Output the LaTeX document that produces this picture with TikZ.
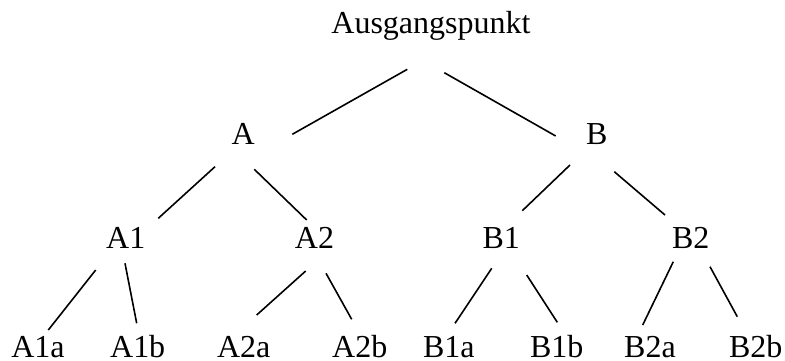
\documentclass[tikz,border=0pt]{standalone}
\usepackage{fontspec}
\setmainfont{Liberation Serif}
\usetikzlibrary{calc}
\begin{document}
\begin{tikzpicture}[x=1pt,y=-1pt,
  lbl/.style={anchor=base,inner sep=0pt,font=\fontsize{32}{36}\selectfont},
  edge/.style={line width=1.6pt,line cap=butt}]
\useasboundingbox (0,0) rectangle (785,360);
\node[lbl] (R) at (431,33.3) {Ausgangspunkt};
\node[lbl] (A) at (243.3,144) {A};
\node[lbl] (B) at (596.7,144) {B};
\node[lbl] (A1) at (125.7,248.3) {A1};
\node[lbl] (A2) at (314.5,248.3) {A2};
\node[lbl] (B1) at (501.2,248.3) {B1};
\node[lbl] (B2) at (690.8,248.3) {B2};
\node[lbl] (A1a) at (38,357.5) {A1a};
\node[lbl] (A1b) at (137.7,357.5) {A1b};
\node[lbl] (A2a) at (243.8,357.5) {A2a};
\node[lbl] (A2b) at (359.7,357.5) {A2b};
\node[lbl] (B1a) at (448.8,357.5) {B1a};
\node[lbl] (B1b) at (556.7,357.5) {B1b};
\node[lbl] (B2a) at (650,357.5) {B2a};
\node[lbl] (B2b) at (755.8,357.5) {B2b};
\draw[edge] ($(R.base)+(-23.7,36)$) -- ($(A.base)+(49,-9.7)$);
\draw[edge] ($(R.base)+(13.3,39.4)$) -- ($(B.base)+(-41,-8)$);
\draw[edge] ($(A.base)+(-28.3,22.7)$) -- ($(A1.base)+(32.6,-30)$);
\draw[edge] ($(A.base)+(11,25.3)$) -- ($(A2.base)+(-7.8,-28.3)$);
\draw[edge] ($(B.base)+(-26.7,21)$) -- ($(B1.base)+(21.1,-37.6)$);
\draw[edge] ($(B.base)+(17.6,27.7)$) -- ($(B2.base)+(-25.8,-33.3)$);
\draw[edge] ($(A1.base)+(-30,21.7)$) -- ($(A1a.base)+(10.3,-27.5)$);
\draw[edge] ($(A1.base)+(-0.7,15)$) -- ($(A1b.base)+(-1,-34.2)$);
\draw[edge] ($(A2.base)+(-8.8,22.7)$) -- ($(A2a.base)+(12.9,-42.5)$);
\draw[edge] ($(A2.base)+(11.5,25)$) -- ($(A2b.base)+(-8,-38.2)$);
\draw[edge] ($(B1.base)+(-9.5,20)$) -- ($(B1a.base)+(6.2,-34.2)$);
\draw[edge] ($(B1.base)+(25.5,26.7)$) -- ($(B1b.base)+(0.6,-35.2)$);
\draw[edge] ($(B2.base)+(-17.5,13.4)$) -- ($(B2a.base)+(-7.3,-32.5)$);
\draw[edge] ($(B2.base)+(19.2,18.4)$) -- ($(B2b.base)+(-18.5,-40.8)$);
\end{tikzpicture}
\end{document}
